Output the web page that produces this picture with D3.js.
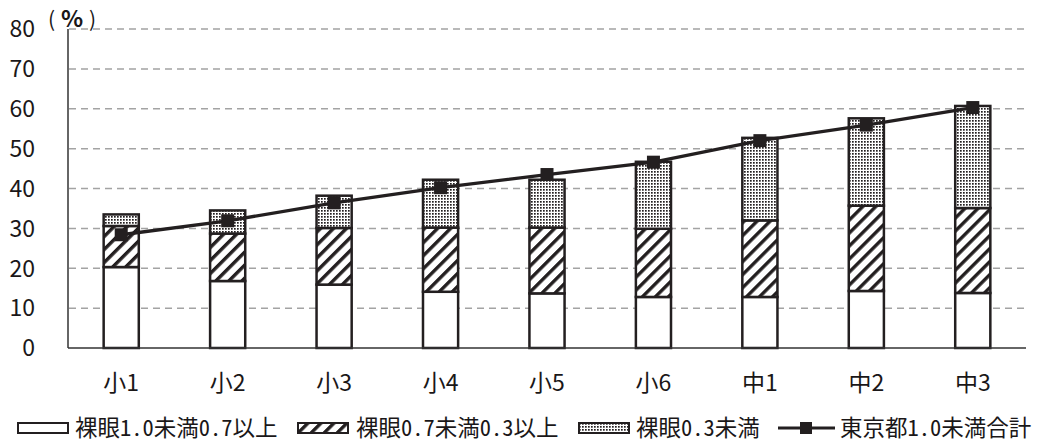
<!DOCTYPE html>
<html>
<head>
<meta charset="utf-8">
<script src="https://cdn.jsdelivr.net/npm/d3@7"></script>
<style>
  html, body { margin: 0; padding: 0; background: #fff; }
  svg text {
    font-family: "Noto Sans CJK JP", "Noto Sans", sans-serif;
    font-weight: 400;
    fill: #1a1718;
  }
  svg text.hw { font-feature-settings: "hwid"; }
</style>
</head>
<body>
<svg id="chart" width="1040" height="443"></svg>
<script>
// categories and series (percent)
var grades = ["小1", "小2", "小3", "小4", "小5", "小6", "中1", "中2", "中3"];
var under10over07 = [20.3, 16.8, 15.9, 14.1, 13.7, 12.8, 12.8, 14.3, 13.8];
var under07over03 = [10.3, 11.9, 14.2, 16.1, 16.5, 17.1, 19.2, 21.4, 21.3];
var under03 = [2.9, 5.8, 8.1, 12.0, 12.0, 16.8, 20.7, 21.9, 25.6];
var tokyoTotal = [28.4, 31.9, 36.4, 40.2, 43.5, 46.6, 52.0, 55.9, 60.3];
var yTicks = [0, 10, 20, 30, 40, 50, 60, 70, 80];
var legendLabels = ["裸眼1.0未満0.7以上", "裸眼0.7未満0.3以上", "裸眼0.3未満", "東京都1.0未満合計"];

var ink = "#231f20";
var svg = d3.select("#chart");

var x = d3.scaleBand().domain(grades).range([68, 1026]).paddingInner(0.67).paddingOuter(0.335);
var y = d3.scaleLinear().domain([0, 80]).range([348, 29]);

// patterns
var defs = svg.append("defs");
var hatch = defs.append("pattern")
    .attr("id", "hatch")
    .attr("patternUnits", "userSpaceOnUse")
    .attr("width", 10).attr("height", 9.2)
    .attr("patternTransform", "rotate(-45)");
hatch.append("rect").attr("width", 10).attr("height", 9.2).attr("fill", "#fff");
hatch.append("rect").attr("width", 10).attr("height", 3.4).attr("fill", ink);

var dots = defs.append("pattern")
    .attr("id", "dots")
    .attr("patternUnits", "userSpaceOnUse")
    .attr("width", 3).attr("height", 3);
dots.append("rect").attr("width", 3).attr("height", 3).attr("fill", "#fff");
dots.append("rect").attr("width", 1.7).attr("height", 1.7).attr("fill", ink);

var fills = ["#fff", "url(#hatch)", "url(#dots)"];

// gridlines
svg.append("g").selectAll("line.grid")
    .data(yTicks.filter(function(d) { return d > 0; }))
    .enter().append("line")
    .classed("grid", true)
    .attr("x1", 69).attr("x2", 1026)
    .attr("y1", function(d) { return y(d); })
    .attr("y2", function(d) { return y(d); })
    .attr("stroke", "#a3a3a3")
    .attr("stroke-width", 1.5)
    .attr("stroke-dasharray", "7,5");

// y tick labels
svg.append("g").selectAll("text.ytick")
    .data(yTicks)
    .enter().append("text")
    .classed("ytick", true)
    .attr("x", 35)
    .attr("y", function(d) { return y(d); })
    .attr("dy", "0.36em")
    .attr("text-anchor", "end")
    .style("font-size", "23px")
    .text(function(d) { return d; });

// unit label (%), pieces placed apart like the full-width original
var unit = svg.append("text").attr("y", 19).attr("dy", "0.36em").style("font-size", "21px");
unit.append("tspan").attr("x", 48).text("(");
unit.append("tspan").attr("x", 61).style("font-size", "23px").style("font-weight", 700).text("%");
unit.append("tspan").attr("x", 89).text(")");

// stacked bars
var stackData = grades.map(function(g, i) {
  return { grade: g, a: under10over07[i], b: under07over03[i], c: under03[i] };
});
var series = d3.stack().keys(["a", "b", "c"])(stackData);

svg.append("g").selectAll("g.layer")
    .data(series)
    .enter().append("g")
    .classed("layer", true)
    .attr("fill", function(d, i) { return fills[i]; })
    .selectAll("rect")
    .data(function(d) { return d; })
    .enter().append("rect")
    .attr("x", function(d) { return x(d.data.grade); })
    .attr("width", x.bandwidth())
    .attr("y", function(d) { return y(d[1]); })
    .attr("height", function(d) { return y(d[0]) - y(d[1]); })
    .attr("stroke", ink)
    .attr("stroke-width", 2.5);

// axes lines
svg.append("line")
    .attr("x1", 68).attr("x2", 68).attr("y1", 29).attr("y2", 348)
    .attr("stroke", "#333").attr("stroke-width", 1.5);
svg.append("line")
    .attr("x1", 68).attr("x2", 1026).attr("y1", 348).attr("y2", 348)
    .attr("stroke", "#333").attr("stroke-width", 1.5);

// x labels
svg.append("g").selectAll("text.xlab")
    .data(grades)
    .enter().append("text")
    .classed("xlab", true)
    .attr("x", function(d) { return x(d) + x.bandwidth() / 2; })
    .attr("y", 383)
    .attr("dy", "0.36em")
    .attr("text-anchor", "middle")
    .style("font-size", "23px")
    .text(function(d) { return d; });

// Tokyo total line
var cx = function(d, i) { return x(grades[i]) + x.bandwidth() / 2; };
var line = d3.line().x(cx).y(function(d) { return y(d); });
svg.append("path")
    .datum(tokyoTotal)
    .attr("d", line)
    .attr("fill", "none")
    .attr("stroke", ink)
    .attr("stroke-width", 3.3);
svg.append("g").selectAll("rect.marker")
    .data(tokyoTotal)
    .enter().append("rect")
    .classed("marker", true)
    .attr("x", function(d, i) { return cx(d, i) - 6.5; })
    .attr("y", function(d) { return y(d) - 6.5; })
    .attr("width", 13).attr("height", 13)
    .attr("fill", ink);

// legend
var legend = svg.append("g");
var swatchX = [18, 298, 579];
var textX = [75, 356, 636, 840];
swatchX.forEach(function(sx, i) {
  legend.append("rect")
    .attr("x", sx).attr("y", 423)
    .attr("width", 50).attr("height", 10)
    .attr("fill", fills[i])
    .attr("stroke", ink)
    .attr("stroke-width", 2);
});
legend.append("line")
    .attr("x1", 778).attr("x2", 835).attr("y1", 428).attr("y2", 428)
    .attr("stroke", ink).attr("stroke-width", 3);
legend.append("rect")
    .attr("x", 800).attr("y", 422).attr("width", 12).attr("height", 12)
    .attr("fill", ink);
legend.selectAll("text")
    .data(legendLabels)
    .enter().append("text")
    .classed("hw", true)
    .attr("x", function(d, i) { return textX[i]; })
    .attr("y", 428)
    .attr("dy", "0.36em")
    .style("font-size", "22.5px")
    .text(function(d) { return d; });
</script>
</body>
</html>
